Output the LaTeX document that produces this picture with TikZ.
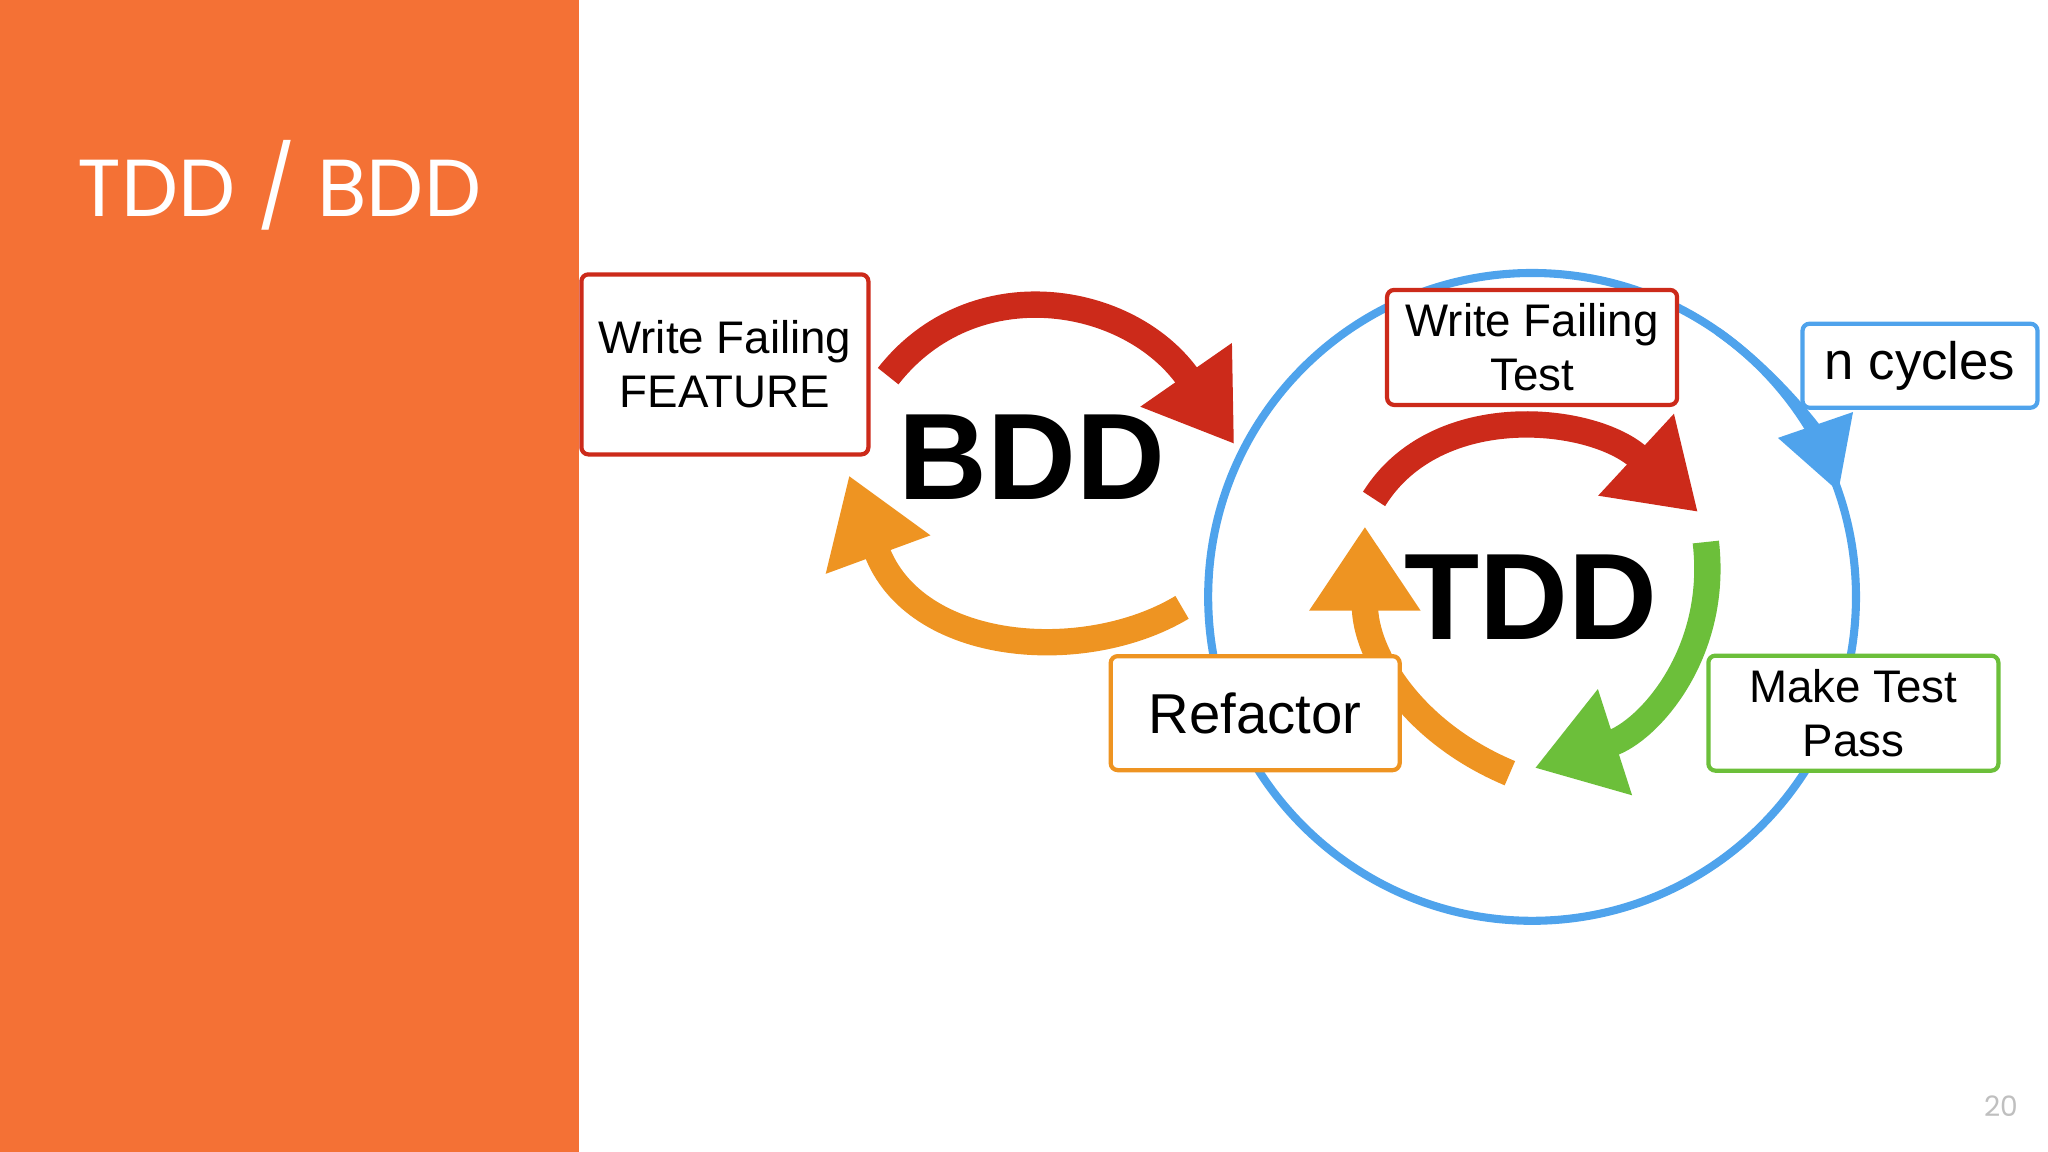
\documentclass[tikz,border=0pt]{standalone}
\usepackage{fontspec}
\setmainfont{Liberation Sans}
\newfontfamily\titlefont{Poppins}
\usetikzlibrary{arrows.meta}
\definecolor{panel}{HTML}{F47135}
\definecolor{bddred}{HTML}{CC2A1A}
\definecolor{tddorange}{HTML}{EE9422}
\definecolor{tddgreen}{HTML}{6CBF3A}
\definecolor{cycblue}{HTML}{4FA3EC}

\tikzset{
  step/.style={draw=#1, line width=1.2pt, rounded corners=2pt, fill=white,
    align=center, font=\fontsize{13}{15.5}\selectfont, inner sep=0pt},
  bigword/.style={font=\fontsize{35}{40}\selectfont\bfseries},
  flow/.style={draw=#1, line width=7.5pt,
    -{Triangle[width=30pt,length=24pt,fill=#1]}}
}

\begin{document}
\begin{tikzpicture}[x=0.01306cm, y=-0.01306cm]
  \useasboundingbox (0,0) rectangle (1568,882);
  % side panel
  \fill[panel] (0,0) rectangle (443,882);
  \node[anchor=west, text=white, font=\titlefont\fontsize{23}{26}\selectfont] (title) at (50,142) {TDD / BDD};
  \node[text=black!25, font=\titlefont\fontsize{8}{9}\selectfont] (page) at (1532,847) {20};

  % outer cycle
  \coordinate (ctr) at (1173,457);
  \draw[cycblue, line width=2.3pt] (ctr) circle[radius=248];
  \draw[cycblue, line width=2.3pt, -{Triangle[width=22pt,length=20pt]}]
    (ctr) ++(-55:248) arc[start angle=-55, end angle=-19, radius=248];

  % BDD loop
  \node[step=bddred, minimum width=2.87cm, minimum height=1.80cm] (feature) at (555,279) {Write Failing\\FEATURE};
  \node[bigword] (bdd) at (790,350) {BDD};
  \coordinate (b1) at (680,288);
  \coordinate (b2) at (945,340);
  \coordinate (b3) at (905,465);
  \coordinate (b4) at (650,364);
  \draw[flow=bddred] (b1) .. controls (745,205) and (865,225) .. (b2);
  \draw[flow=tddorange] (b3) .. controls (830,510) and (700,500) .. (b4);

  % TDD loop
  \node[bigword] (tdd) at (1172,457) {TDD};
  \coordinate (t1) at (1052,382);
  \coordinate (t2) at (1300,392);
  \coordinate (t3) at (1306,415);
  \coordinate (t4) at (1175,588);
  \coordinate (t5) at (1156,592);
  \coordinate (t6) at (1045,403);
  \draw[flow=bddred] (t1) .. controls (1100,305) and (1220,318) .. (t2);
  \draw[flow=tddgreen] (t3) .. controls (1316,500) and (1262,560) .. (t4);
  \draw[flow=tddorange] (t5) .. controls (1080,560) and (1045,500) .. (t6);

  \node[step=bddred, minimum width=2.90cm, minimum height=1.15cm] (test) at (1173,266) {Write Failing\\Test};
  \node[step=cycblue, minimum width=2.35cm, minimum height=0.84cm, font=\fontsize{15}{18}\selectfont] (cycles) at (1470,280) {n cycles};
  \node[step=tddorange, minimum width=2.89cm, minimum height=1.14cm, font=\fontsize{16}{19}\selectfont] (refactor) at (961,546) {Refactor};
  \node[step=tddgreen, minimum width=2.90cm, minimum height=1.15cm] (pass) at (1419,546) {Make Test\\Pass};
\end{tikzpicture}
\end{document}
